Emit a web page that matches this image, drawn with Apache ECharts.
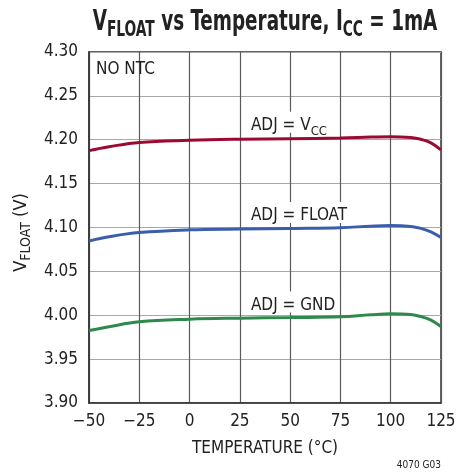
<!DOCTYPE html>
<html>
<head>
<meta charset="utf-8">
<script src="https://cdn.jsdelivr.net/npm/echarts@6/dist/echarts.min.js"></script>
<style>
html,body{margin:0;padding:0;background:#fff;}
#c{width:471px;height:476px;}
</style>
</head>
<body>
<div id="c"></div>
<script>
// ---- data ----
const temps = [-50, -40, -25, 0, 25, 50, 75, 90, 100, 110, 115, 120, 125];
const adjVcc   = [4.1876, 4.1920, 4.1970, 4.1994, 4.2006, 4.2012, 4.2020, 4.2030, 4.2035, 4.2025, 4.2005, 4.1965, 4.1884];
const adjFloat = [4.0847, 4.0895, 4.0942, 4.0973, 4.0982, 4.0990, 4.0998, 4.1015, 4.1022, 4.1012, 4.0990, 4.0950, 4.0885];
const adjGnd   = [3.9826, 3.9870, 3.9925, 3.9955, 3.9967, 3.9974, 3.9982, 4.0005, 4.0016, 4.0008, 3.9985, 3.9945, 3.9872];
const xTicks = [-50, -25, 0, 25, 50, 75, 100, 125];
const yTicks = [3.90, 3.95, 4.00, 4.05, 4.10, 4.15, 4.20, 4.25, 4.30];
const seriesNames = ['ADJ = VCC', 'ADJ = FLOAT', 'ADJ = GND'];
const seriesColors = ['#9b0a32', '#3b5dab', '#2e8a4c'];
// annotation anchors (data coords)
const labelAnchors = [[28.5, 4.2200], [28.5, 4.1170], [28.5, 4.0150]];
const noteAnchor = [-46.5, 4.2795];

const FONT = "'DejaVu Sans Condensed', 'Liberation Sans Narrow', sans-serif";
const TXT = '#222';

function pair(xs, ys){ return xs.map((x,i)=>[x, ys[i]]); }

const labelRich = {
  a: {fontFamily: FONT, fontSize: 17, color: TXT, lineHeight: 16, verticalAlign: 'top'},
  s: {fontFamily: FONT, fontSize: 13, color: TXT, lineHeight: 8, verticalAlign: 'top', padding: [8,0,0,0]}
};
const labelTexts = ['{a|ADJ = V}{s|CC}', '{a|ADJ = FLOAT}', '{a|ADJ = GND}'];

function makeSeries(i, ys){
  return {
    name: seriesNames[i],
    type: 'line',
    data: pair(temps, ys),
    smooth: 0.4,
    showSymbol: false,
    symbol: 'none',
    lineStyle: {color: seriesColors[i], width: 3},
    itemStyle: {color: seriesColors[i]},
    z: 10,
    markPoint: {
      z: 4,
      symbol: 'circle', symbolSize: 0, silent: true,
      data: [{coord: labelAnchors[i], value: 0}],
      label: {
        show: true, position: 'right', distance: 0,
        formatter: labelTexts[i], rich: labelRich,
        backgroundColor: '#fff', padding: [5,4,0,4]
      }
    }
  };
}

const chart = echarts.init(document.getElementById('c'), null, {renderer: 'canvas'});
const option = {
  backgroundColor: '#fff',
  animation: false,
  grid: {left: 89, right: 30, top: 52, bottom: 73, show: true, borderColor: '#333', borderWidth: 1.5, backgroundColor: 'transparent'},
  xAxis: {
    type: 'value', min: -50, max: 125, interval: 25,
    name: 'TEMPERATURE (°C)', nameLocation: 'middle', nameGap: 37,
    nameTextStyle: {fontFamily: FONT, fontSize: 17, color: TXT},
    axisLine: {show: true, onZero: false, lineStyle: {color: '#333', width: 1.5}},
    axisTick: {show: false},
    axisLabel: {fontFamily: FONT, fontSize: 17, color: TXT, margin: 10,
      formatter: v => xTicks.includes(v) ? String(v).replace('-', '\u2212') : ''},
    splitLine: {show: true, lineStyle: {color: '#5a5a5a', width: 1.2}}
  },
  yAxis: {
    type: 'value', min: 3.90, max: 4.30, interval: 0.05,
    name: '{a|V}{b|FLOAT}{a| (V)}', nameLocation: 'middle', nameGap: 46, nameRotate: 90,
    nameTextStyle: {
      padding: [0, 10, 0, 0],
      rich: {
        a: {fontFamily: FONT, fontSize: 18, color: TXT, lineHeight: 21, verticalAlign: 'top'},
        b: {fontFamily: FONT, fontSize: 14, color: TXT, lineHeight: 15, verticalAlign: 'top', padding: [7,0,0,0]}
      }
    },
    axisLine: {show: true, onZero: false, lineStyle: {color: '#333', width: 1.5}},
    axisTick: {show: false},
    axisLabel: {fontFamily: FONT, fontSize: 17, color: TXT, margin: 11,
      formatter: v => yTicks.find(t => Math.abs(t - v) < 1e-6) !== undefined ? v.toFixed(2) : ''},
    splitLine: {show: true, lineStyle: {color: '#a8a8a8', width: 1.2}}
  },
  series: [
    makeSeries(0, adjVcc),
    makeSeries(1, adjFloat),
    makeSeries(2, adjGnd),
    {
      type: 'scatter', data: [], silent: true,
      markPoint: {
        symbol: 'circle', symbolSize: 0, silent: true,
        data: [{coord: noteAnchor, value: 0}],
        label: {show: true, position: 'right', distance: 0, formatter: 'NO NTC',
          fontFamily: FONT, fontSize: 17, color: TXT}
      }
    }
  ],
  graphic: [
    {
      type: 'text', x: 265, y: 9, scaleX: 0.73, scaleY: 1,
      style: {
        text: '{a|V}{b|FLOAT}{a| vs Temperature, I}{b|CC}{a| = 1mA}',
        align: 'center', verticalAlign: 'top',
        rich: {
          a: {fontFamily: FONT, fontSize: 28, fontWeight: 'bold', fill: TXT, lineHeight: 32, verticalAlign: 'top'},
          b: {fontFamily: FONT, fontSize: 21, fontWeight: 'bold', fill: TXT, lineHeight: 22, verticalAlign: 'top', padding: [11,0,0,0]}
        }
      }
    },
    {
      type: 'text', right: 30, top: 460,
      style: {text: '4070 G03', font: "10px " + FONT, fill: TXT}
    }
  ]
};
chart.setOption(option);
</script>
</body>
</html>
